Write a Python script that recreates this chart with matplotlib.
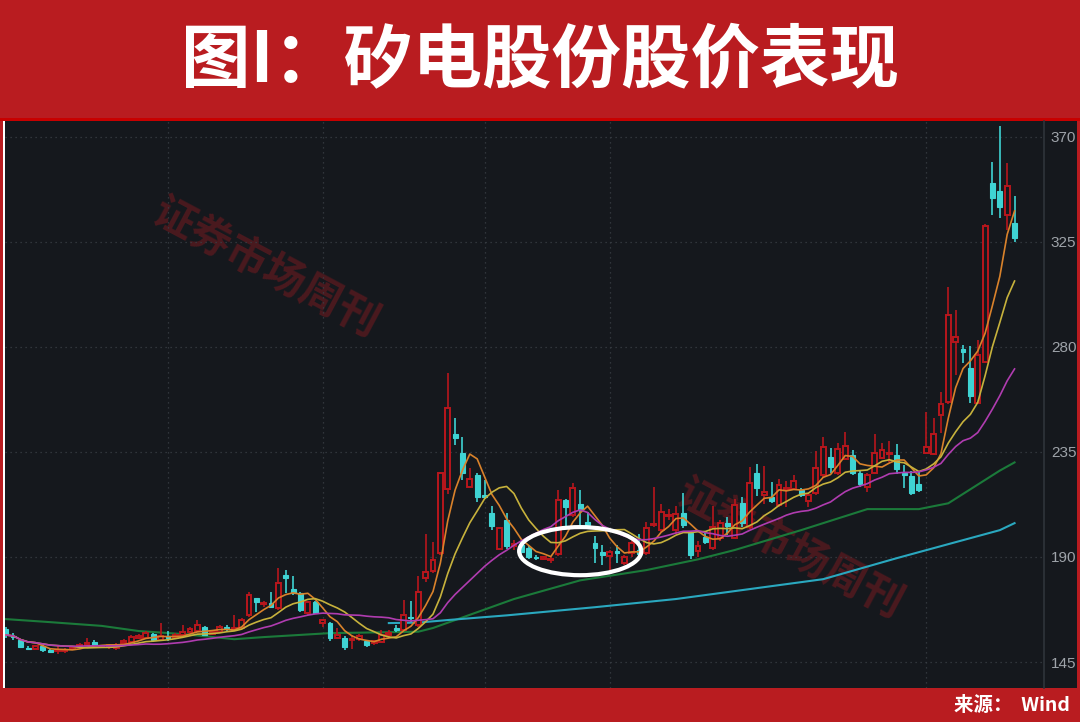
import matplotlib
matplotlib.use("Agg")
import matplotlib.pyplot as plt
from matplotlib.patches import Rectangle, Ellipse
import numpy as np
import pandas as pd

plt.rcParams['font.family'] = ['Noto Sans CJK SC', 'DejaVu Sans']

# === 数据：日K线 (开, 高, 低, 收) ===
opens = [159.1, 156.3, 154.4, 151.2, 150.6, 152.0, 150.0, 149.6, 149.7, 150.5,
         151.5, 152.3, 153.7, 151.5, 151.4, 151.2, 153.2, 153.6, 155.5, 155.3,
         157.0, 154.5, 156.2, 155.4, 156.6, 157.9, 158.3, 160.0, 157.0, 157.9,
         160.0, 158.8, 159.6, 165.0, 172.4, 169.8, 170.3, 168.0, 182.3, 176.2,
         174.5, 166.0, 170.7, 161.7, 161.7, 155.3, 155.3, 154.5, 154.8, 154.0,
         153.2, 153.6, 156.6, 159.5, 158.7, 164.2, 160.8, 181.0, 184.0, 191.7,
         219.0, 242.6, 234.5, 220.0, 225.0, 216.5, 208.8, 193.4, 205.8, 194.5,
         195.0, 193.8, 190.0, 189.0, 188.5, 191.3, 214.4, 208.0, 212.7, 205.0,
         196.0, 192.2, 190.5, 192.5, 187.4, 191.7, 193.0, 191.7, 203.7, 201.5,
         207.5, 201.5, 208.8, 200.2, 192.5, 198.5, 193.8, 198.0, 204.5, 198.0,
         213.0, 202.8, 226.0, 216.5, 215.7, 212.2, 218.7, 219.0, 218.7, 214.0,
         217.4, 225.0, 233.0, 226.0, 232.0, 233.7, 226.0, 220.0, 226.0, 232.4,
         234.2, 233.7, 226.0, 224.7, 221.2, 234.5, 234.0, 250.8, 256.4, 282.0,
         279.0, 271.0, 256.0, 273.5, 350.0, 346.7, 336.5, 333.0]
highs = [160.0, 157.5, 155.0, 152.0, 152.5, 152.5, 150.5, 152.0, 151.0, 152.0,
         153.0, 155.5, 154.5, 152.0, 152.8, 153.0, 155.0, 156.5, 157.0, 158.5,
         157.5, 161.7, 158.5, 157.5, 161.0, 160.0, 163.0, 160.5, 158.5, 161.0,
         161.0, 165.0, 164.0, 175.0, 172.6, 171.0, 175.0, 185.2, 184.4, 182.0,
         175.0, 171.0, 171.2, 163.5, 162.0, 159.4, 156.0, 156.6, 157.0, 154.5,
         154.5, 158.7, 158.7, 160.8, 171.5, 171.0, 182.0, 200.0, 196.4, 226.5,
         268.8, 249.5, 241.4, 228.0, 226.0, 223.0, 212.0, 203.0, 209.0, 197.2,
         197.0, 194.5, 191.0, 190.5, 190.0, 218.8, 215.0, 221.5, 218.8, 209.2,
         199.0, 195.0, 193.0, 195.0, 191.0, 198.0, 200.0, 205.0, 220.0, 212.6,
         210.5, 212.0, 217.4, 201.0, 197.0, 201.3, 211.8, 206.0, 207.0, 215.0,
         215.5, 228.5, 230.0, 229.0, 222.0, 223.5, 222.5, 225.0, 219.5, 217.5,
         235.3, 241.4, 236.5, 239.0, 243.5, 235.8, 227.0, 226.0, 242.7, 239.0,
         239.7, 238.4, 229.5, 226.8, 226.5, 252.0, 249.5, 260.6, 305.6, 295.8,
         280.7, 280.3, 283.0, 332.5, 359.0, 374.6, 358.7, 344.6]
lows = [155.5, 154.5, 151.0, 150.0, 150.0, 149.5, 148.8, 148.5, 149.0, 150.0,
        151.0, 152.0, 152.0, 151.0, 150.8, 150.0, 152.5, 153.0, 155.0, 154.8,
        153.5, 154.0, 154.0, 155.0, 156.0, 157.5, 158.0, 156.0, 156.5, 157.5,
        158.5, 158.5, 159.0, 164.5, 166.6, 168.7, 168.3, 167.5, 174.6, 173.7,
        166.5, 165.0, 165.5, 160.0, 154.0, 155.0, 150.1, 150.5, 154.0, 151.5,
        152.5, 153.0, 155.5, 158.0, 158.3, 162.0, 160.0, 179.5, 183.0, 191.0,
        217.0, 238.0, 223.0, 219.5, 213.7, 215.0, 201.5, 193.0, 193.4, 192.8,
        190.5, 189.0, 188.5, 188.5, 187.5, 190.5, 203.2, 207.0, 202.0, 202.5,
        187.4, 186.5, 184.4, 187.5, 186.5, 190.0, 189.0, 191.0, 203.0, 200.5,
        206.0, 200.0, 202.5, 189.0, 190.0, 195.6, 193.0, 197.0, 199.5, 197.5,
        203.0, 202.0, 216.0, 212.6, 213.0, 211.5, 211.5, 218.5, 215.5, 211.5,
        216.5, 224.0, 226.0, 225.0, 231.5, 225.0, 220.0, 218.0, 225.5, 232.0,
        230.8, 225.5, 219.5, 216.5, 218.0, 234.0, 233.5, 243.0, 255.5, 268.0,
        273.0, 256.0, 255.5, 273.0, 336.5, 335.0, 330.0, 325.0]
closes = [156.6, 155.8, 151.4, 150.7, 152.0, 150.1, 149.3, 150.3, 150.2, 151.2,
          152.2, 153.3, 152.4, 151.7, 152.2, 152.3, 154.0, 155.7, 156.2, 157.4,
          154.4, 156.2, 155.4, 156.4, 157.9, 159.2, 160.8, 156.6, 158.0, 160.0,
          159.5, 159.5, 163.0, 173.7, 170.7, 170.3, 168.7, 178.8, 181.0, 174.5,
          167.3, 170.7, 166.0, 162.9, 155.3, 156.6, 151.4, 154.8, 156.2, 152.3,
          154.0, 156.6, 157.5, 158.7, 165.1, 163.8, 175.0, 183.5, 188.7, 226.0,
          254.0, 241.0, 226.0, 223.4, 215.7, 215.7, 203.2, 202.4, 194.7, 195.5,
          192.0, 190.0, 189.5, 190.0, 189.3, 214.4, 211.4, 219.5, 210.0, 203.5,
          193.8, 191.0, 192.2, 191.6, 190.0, 196.0, 191.3, 202.4, 204.2, 209.2,
          208.0, 208.5, 203.7, 190.8, 194.5, 196.4, 202.8, 204.5, 203.2, 212.2,
          204.5, 221.7, 219.5, 217.8, 214.0, 220.8, 219.5, 222.5, 216.5, 216.5,
          228.0, 237.0, 228.5, 236.2, 237.5, 226.0, 221.3, 225.0, 234.5, 235.8,
          234.7, 227.7, 225.0, 217.4, 218.7, 237.0, 242.6, 255.5, 293.6, 284.0,
          277.8, 259.0, 276.5, 331.7, 343.7, 340.0, 348.9, 326.6]

# 长周期均线（绿、青）按图读取的节点
ma60_idx = [0, 6, 13, 18, 24, 31, 35, 44, 56, 58, 69, 78, 87, 94, 99, 108, 117, 124, 128, 135, 137]
ma60_val = [163.4, 162.1, 160.5, 158.3, 157.0, 154.8, 155.7, 157.4, 158.0, 159.6, 172.0, 180.0,
            184.4, 189.0, 193.0, 201.5, 210.5, 210.5, 213.0, 227.0, 230.5]
ma120_idx = [52, 56, 60, 68, 80, 91, 111, 121, 135, 137]
ma120_val = [161.7, 161.9, 163.0, 165.0, 168.5, 172.0, 180.5, 189.5, 201.5, 204.5]

yticks = [145, 190, 235, 280, 325, 370]
month_lines = [22, 43, 65, 82, 125]

# === 颜色 ===
BG = '#15181d'
RED = '#b8161c'
CYAN = '#3fd3d3'
BAND = '#b91c20'

df = pd.DataFrame({'open': opens, 'high': highs, 'low': lows, 'close': closes})
ma5 = df['close'].rolling(5, min_periods=1).mean()
ma10 = df['close'].rolling(10, min_periods=1).mean()
ma20 = df['close'].rolling(20, min_periods=1).mean()

fig = plt.figure(figsize=(10.8, 7.22), dpi=100, facecolor=BAND)
# 图表暗色底板
fig.patches.append(Rectangle((3/1080, 34/722), 1074/1080, 567/722, transform=fig.transFigure,
                             facecolor=BG, edgecolor='none', zorder=-10))
fig.patches.append(Rectangle((3/1080, 34/722), 2/1080, 567/722, transform=fig.transFigure,
                             facecolor='white', edgecolor='none', zorder=-9))
fig.patches.append(Rectangle((0, 601/722), 1, 3/722, transform=fig.transFigure,
                             facecolor='#c80000', edgecolor='none', zorder=-9))

ax = fig.add_axes([5/1080, 34/722, 1039/1080, 567/722])
ax.set_facecolor(BG)

x = np.arange(len(closes))
w = 0.66
for i in x:
    o, h, l, c = opens[i], highs[i], lows[i], closes[i]
    lo_b, hi_b = min(o, c), max(o, c)
    if hi_b - lo_b < 0.5:
        hi_b = lo_b + 0.5
    if c >= o:
        col = RED
        ax.vlines(i, hi_b, h, color=col, lw=1.2, zorder=3)
        ax.vlines(i, l, lo_b, color=col, lw=1.2, zorder=3)
        ax.add_patch(Rectangle((i - w/2, lo_b), w, hi_b - lo_b, facecolor=BG,
                               edgecolor=col, lw=1.4, zorder=3))
    else:
        col = CYAN
        ax.vlines(i, l, h, color=col, lw=1.2, zorder=3)
        ax.add_patch(Rectangle((i - w/2, lo_b), w, hi_b - lo_b, facecolor=col,
                               edgecolor=col, lw=0.8, zorder=3))

ax.plot(x, ma5, color='#d9822b', lw=1.2, zorder=4)
ax.plot(x, ma10, color='#c7b23c', lw=1.2, zorder=4)
ax.plot(x, ma20, color='#b03cb0', lw=1.2, zorder=4)
ax.plot(ma60_idx, ma60_val, color='#1b7a3a', lw=1.5, zorder=2)
ax.plot(ma120_idx, ma120_val, color='#2aa8bf', lw=1.5, zorder=2)

# 白色椭圆标注
ax.add_patch(Ellipse((78, 192.5), 16.6, 20.6, facecolor='none', edgecolor='white',
                     lw=3, zorder=6))

# 水印
for (wx, wy) in [(0.25, 0.74), (0.755, 0.245)]:
    ax.text(wx, wy, '证券市场周刊', transform=ax.transAxes, fontsize=30, fontweight='bold',
            color='#6e1a20', alpha=0.6, rotation=-28, ha='center', va='center', zorder=1)

ax.set_xlim(-0.14, 141)
ax.set_ylim(133.9, 376.7)
ax.set_yticks(yticks)
ax.yaxis.tick_right()
ax.tick_params(axis='y', length=0, pad=5, labelsize=11, labelcolor='#9ea3a9')
ax.set_xticks([])
for lab in ax.get_yticklabels():
    lab.set_family(['Liberation Sans', 'DejaVu Sans'])
ax.grid(axis='y', color='#3a3f46', ls=(0, (1, 3)), lw=0.9)
for m in month_lines:
    ax.axvline(m, color='#3a3f46', ls=(0, (1, 3)), lw=0.9, zorder=1)
for s in ['top', 'left', 'bottom']:
    ax.spines[s].set_visible(False)
ax.spines['right'].set_color('#2f343b')
ax.spines['right'].set_linewidth(1.2)

fig.text(0.5, 1 - 62/722, '图I：矽电股份股价表现', color='white', fontsize=50,
         fontweight='black', ha='center', va='center')
fig.text(1070/1080, 1 - 705/722, '来源：  Wind', color='white', fontsize=14,
         fontweight='bold', ha='right', va='center')

plt.savefig('out.png', dpi=100, facecolor=BAND)
plt.close()
